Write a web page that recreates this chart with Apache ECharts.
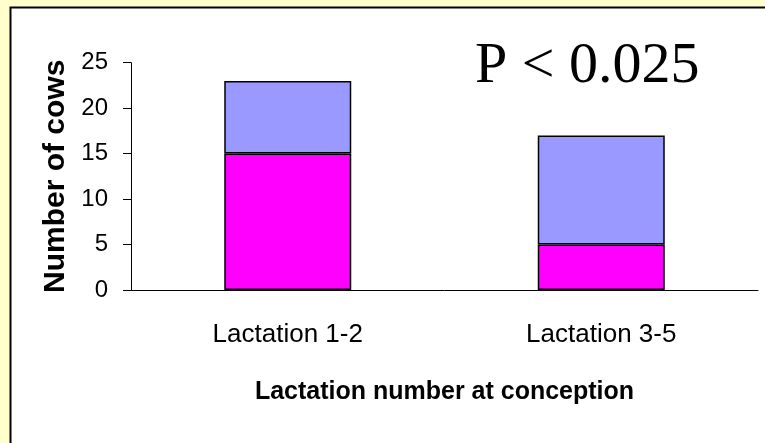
<!DOCTYPE html>
<html>
<head>
<meta charset="utf-8">
<script src="https://cdn.jsdelivr.net/npm/echarts@6/dist/echarts.min.js"></script>
<style>
  html, body { margin: 0; padding: 0; background: #FFFFCC; }
  #main { width: 765px; height: 443px; }
</style>
</head>
<body>
<div id="main"></div>
<script>
var categories = ['Lactation 1-2', 'Lactation 3-5'];
var lowerPart = [15, 5];   // magenta
var upperPart = [8, 12];   // blue, stacked on top
var yTicks = [0, 5, 10, 15, 20, 25];

var myChart = echarts.init(document.getElementById('main'));

var option = {
    backgroundColor: '#FFFFCC',
    animation: false,
    graphic: [
        {
            type: 'rect',
            z: -10,
            silent: true,
            shape: { x: 10.5, y: 7.5, width: 800, height: 500 },
            style: { fill: '#fff', stroke: '#000', lineWidth: 2 }
        },
        {
            type: 'text',
            left: 475,
            top: 38,
            style: {
                text: 'P < 0.025',
                font: '58px "Liberation Serif", "Times New Roman", serif',
                fill: '#000'
            }
        }
    ],
    grid: {
        left: 131,
        right: 7,
        top: 62.7,
        bottom: 153
    },
    xAxis: {
        type: 'category',
        data: categories,
        name: 'Lactation number at conception',
        nameLocation: 'middle',
        nameGap: 90,
        nameTextStyle: {
            fontFamily: '"Liberation Sans", Arial, sans-serif',
            fontWeight: 'bold',
            fontSize: 25,
            color: '#000'
        },
        axisLine: { lineStyle: { color: '#000', width: 1 } },
        axisTick: { length: 10, lineStyle: { color: '#000' } },
        axisLabel: {
            margin: 32,
            fontFamily: '"Liberation Sans", Arial, sans-serif',
            fontSize: 26,
            color: '#000'
        }
    },
    yAxis: {
        type: 'value',
        min: 0,
        max: 25,
        interval: 5,
        name: 'Number of cows',
        nameLocation: 'middle',
        nameGap: 60,
        nameTextStyle: {
            fontFamily: '"Liberation Sans", Arial, sans-serif',
            fontWeight: 'bold',
            fontSize: 30,
            color: '#000'
        },
        axisLine: { show: true, lineStyle: { color: '#000', width: 1 } },
        axisTick: { show: true, length: 8, lineStyle: { color: '#000' } },
        splitLine: { show: false },
        axisLabel: {
            margin: 23,
            fontFamily: '"Liberation Sans", Arial, sans-serif',
            fontSize: 24,
            color: '#000',
            formatter: function (v) {
                return yTicks.indexOf(v) >= 0 ? String(v) : '';
            }
        }
    },
    series: [
        {
            name: 'lower',
            type: 'bar',
            stack: 'total',
            barWidth: 127,
            data: lowerPart,
            itemStyle: { color: '#FF00FF', borderColor: '#000', borderWidth: 1.5 }
        },
        {
            name: 'upper',
            type: 'bar',
            stack: 'total',
            barWidth: 127,
            data: upperPart,
            itemStyle: { color: '#9999FF', borderColor: '#000', borderWidth: 1.5 }
        }
    ]
};

myChart.setOption(option);
</script>
</body>
</html>
